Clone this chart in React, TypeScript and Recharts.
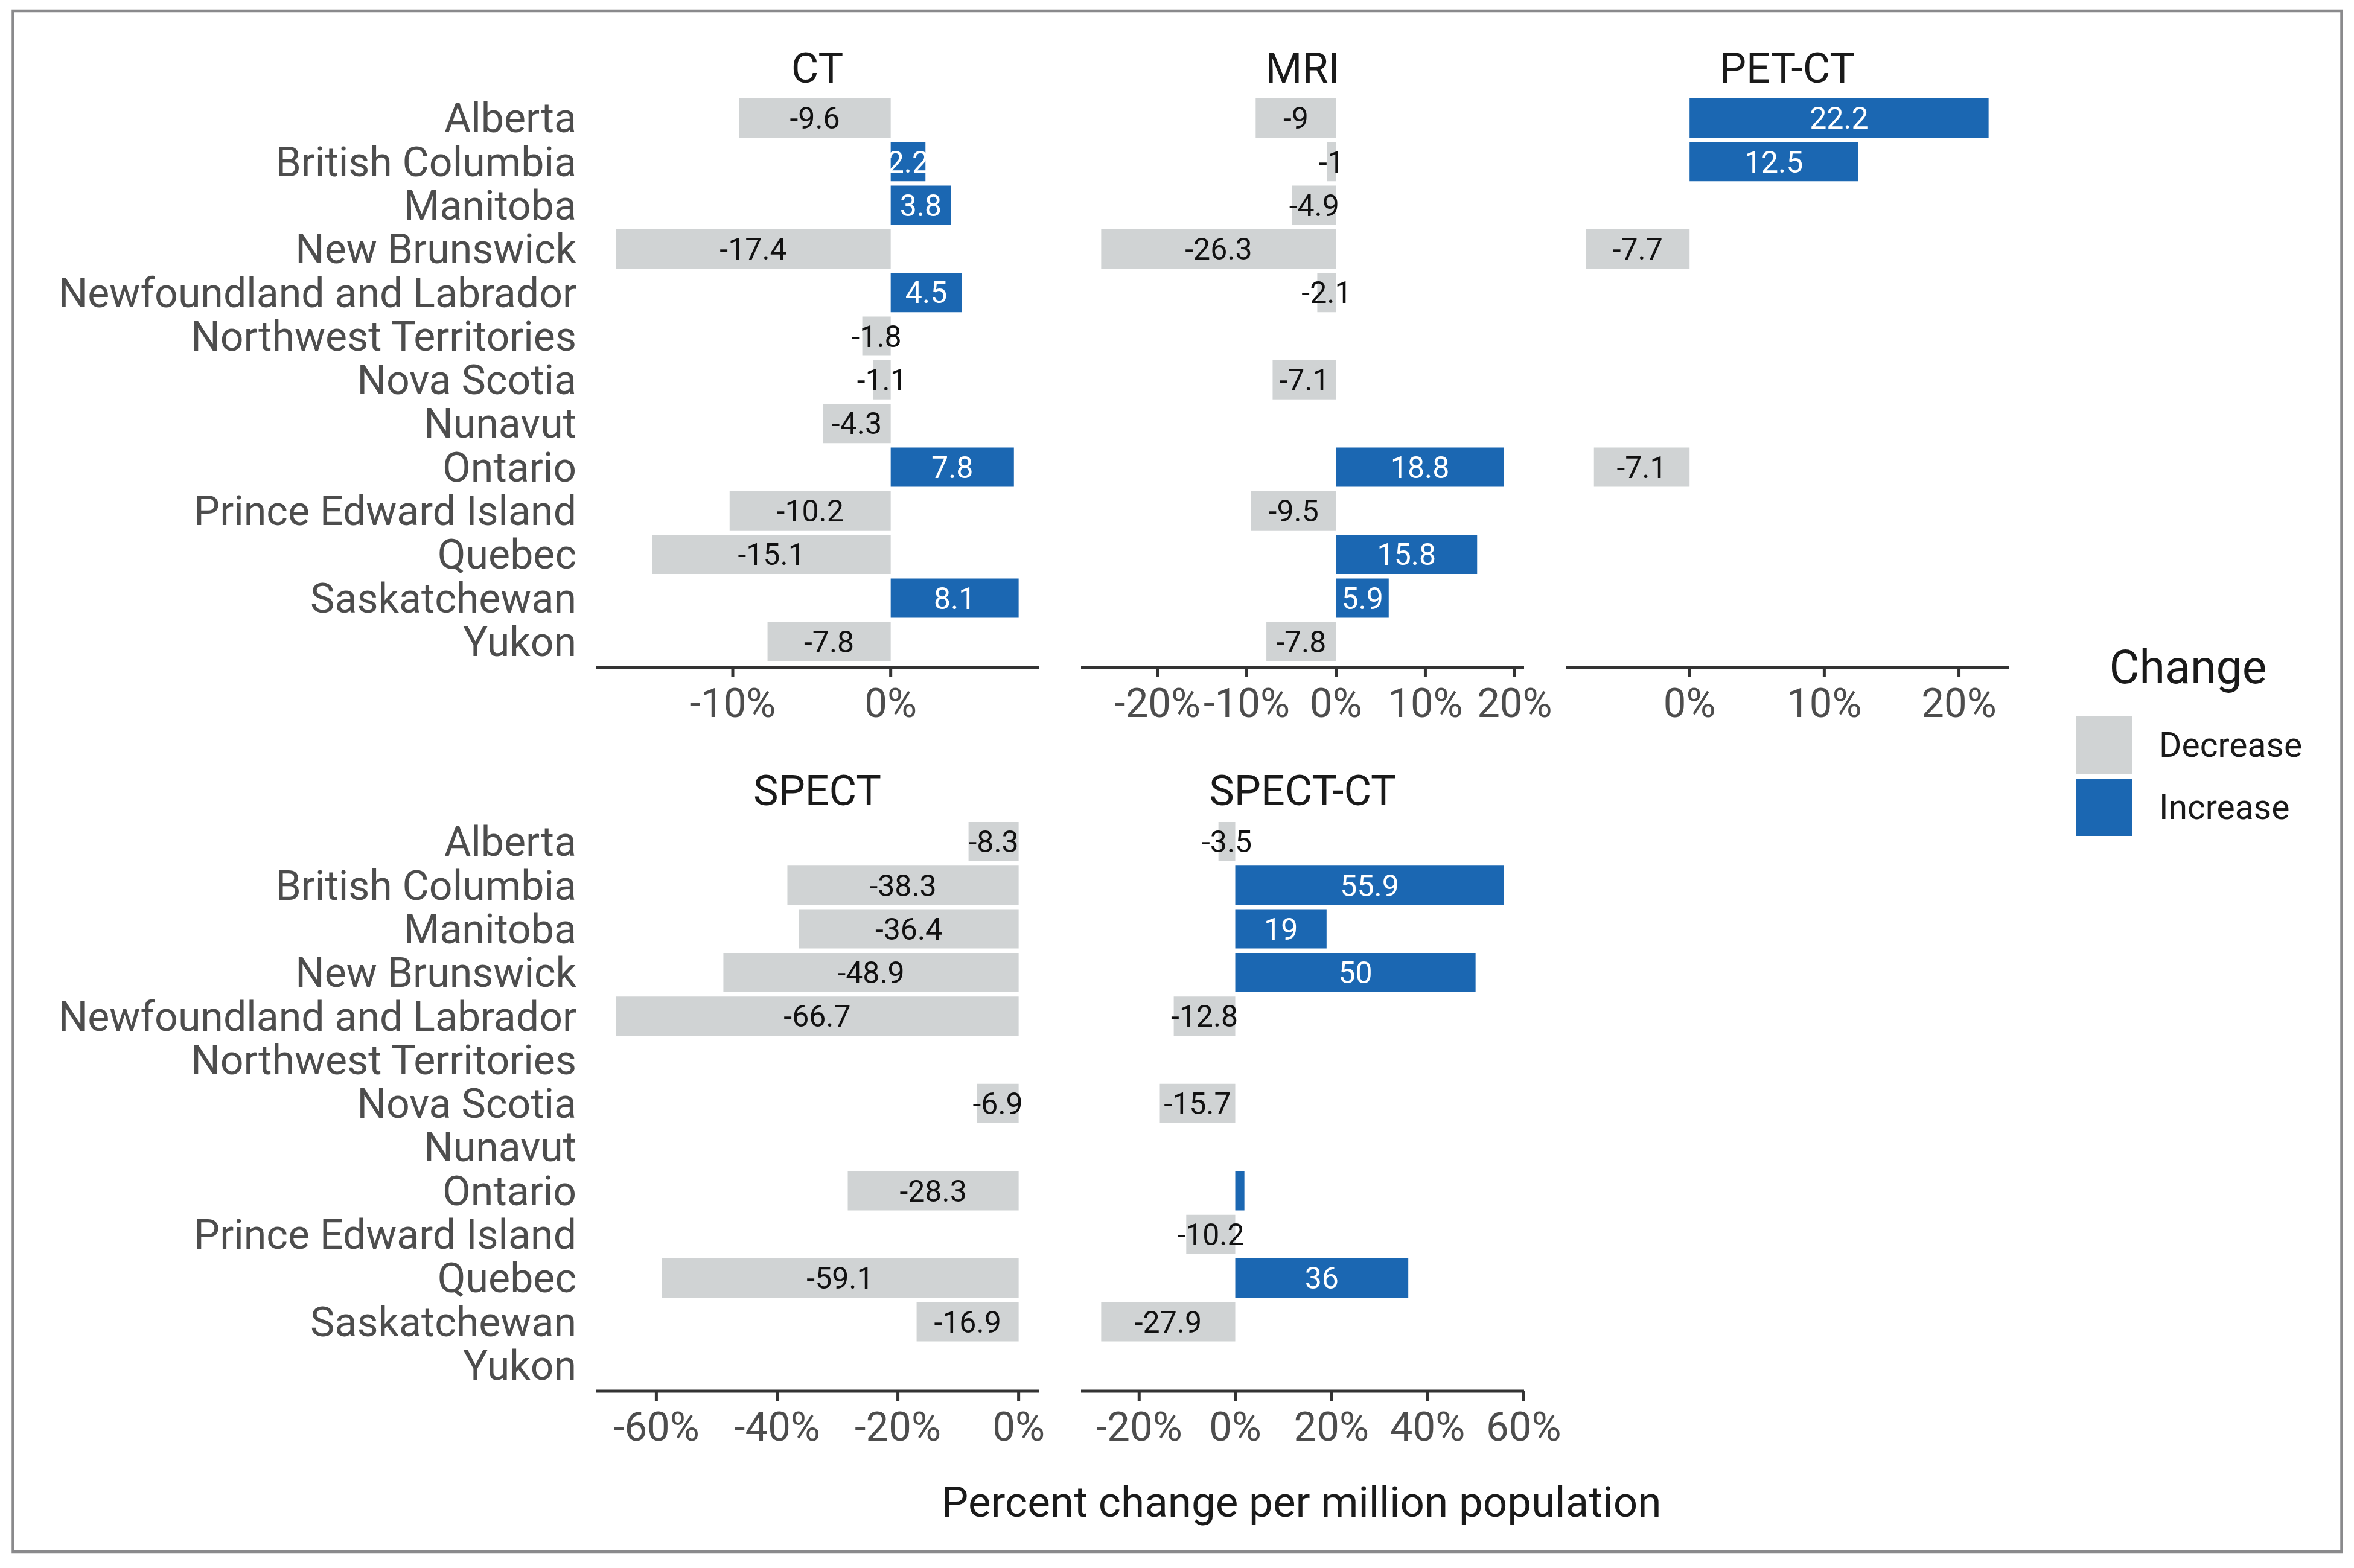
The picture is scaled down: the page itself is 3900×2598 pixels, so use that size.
import React from 'react';
import { BarChart, Bar, XAxis, YAxis, LabelList } from 'recharts';

// provinces, top to bottom
const provinces = [
  'Alberta',
  'British Columbia',
  'Manitoba',
  'New Brunswick',
  'Newfoundland and Labrador',
  'Northwest Territories',
  'Nova Scotia',
  'Nunavut',
  'Ontario',
  'Prince Edward Island',
  'Quebec',
  'Saskatchewan',
  'Yukon',
];

// percent change per million population, null = no data
const ctValues = [-9.6, 2.2, 3.8, -17.4, 4.5, -1.8, -1.1, -4.3, 7.8, -10.2, -15.1, 8.1, -7.8];
const mriValues = [-9, -1, -4.9, -26.3, -2.1, null, -7.1, null, 18.8, -9.5, 15.8, 5.9, -7.8];
const petctValues = [22.2, 12.5, 0, -7.7, 0, null, 0, null, -7.1, null, 0, 0, null];
const spectValues = [-8.3, -38.3, -36.4, -48.9, -66.7, null, -6.9, null, -28.3, null, -59.1, -16.9, null];
const spectctValues = [-3.5, 55.9, 19, 50, -12.8, null, -15.7, null, 1.9, -10.2, 36, -27.9, null];

const ctTicks = [-10, 0];
const mriTicks = [-20, -10, 0, 10, 20];
const petctTicks = [0, 10, 20];
const spectTicks = [-60, -40, -20, 0];
const spectctTicks = [-20, 0, 20, 40, 60];

const GREY = '#d0d3d4';
const BLUE = '#1b67b2';
const FONT = 'Roboto, sans-serif';

const PLOT_W = 734;
const PLOT_H = 954;
const AXIS_H = 130;
const NAMES_W = 960;
const RIGHT_PAD = 90; // room for the last tick label

type PanelProps = {
  values: (number | null)[];
  ticks: number[];
  left: number;
  top: number;
  showNames?: boolean;
};

const Panel = ({ values, ticks, left, top, showNames }: PanelProps) => {
  const data = provinces.map((p, i) => {
    const v = values[i];
    return {
      prov: p,
      dec: v != null && v < 0 ? v : null,
      inc: v != null && v > 0 ? v : null,
    };
  });
  // ggplot-like 5% expansion of the data range
  const present = values.filter((v) => v != null) as number[];
  const lo = Math.min(0, ...present);
  const hi = Math.max(0, ...present);
  const pad = (hi - lo) * 0.05;
  const yW = showNames ? NAMES_W : 0;

  return (
    <div style={{ position: 'absolute', left: left - yW, top }}>
      <BarChart
        layout="vertical"
        width={yW + PLOT_W + RIGHT_PAD}
        height={PLOT_H + AXIS_H}
        data={data}
        margin={{ top: 0, right: RIGHT_PAD, bottom: 0, left: 0 }}
        barSize={65}
        stackOffset="sign"
      >
        <XAxis
          type="number"
          domain={[lo - pad, hi + pad]}
          allowDataOverflow
          ticks={ticks}
          interval={0}
          tickFormatter={(v) => `${v}%`}
          height={AXIS_H}
          axisLine={{ stroke: '#333333', strokeWidth: 5 }}
          tickLine={{ stroke: '#333333', strokeWidth: 5 }}
          tickSize={16}
          tickMargin={18}
          tick={{ fill: '#4d4d4d', fontSize: 67, fontFamily: FONT }}
        />
        <YAxis
          type="category"
          dataKey="prov"
          width={yW}
          hide={!showNames}
          axisLine={false}
          tickLine={false}
          tickSize={0}
          tickMargin={32}
          interval={0}
          padding={{ top: 7, bottom: 7 }}
          tick={{ fill: '#4d4d4d', fontSize: 68, fontFamily: FONT }}
        />
        <Bar dataKey="dec" stackId="s" fill={GREY} isAnimationActive={false}>
          <LabelList
            dataKey="dec"
            position="center"
            fill="#111111"
            fontSize={50}
            fontFamily={FONT}
          />
        </Bar>
        <Bar dataKey="inc" stackId="s" fill={BLUE} isAnimationActive={false}>
          <LabelList
            dataKey="inc"
            position="center"
            fill="#ffffff"
            fontSize={50}
            fontFamily={FONT}
            formatter={(v: any) => (v != null && v < 2 ? '' : v)}
          />
        </Bar>
      </BarChart>
    </div>
  );
};

const App = () => {
  const col = [987, 1791, 2594];
  const rowTop = [152, 1351];
  return (
    <div style={{ position: 'absolute', left: 0, top: 0, width: 3900, height: 2598, background: '#fff', fontFamily: FONT }}>
      <svg width={3900} height={2598} style={{ position: 'absolute', left: 0, top: 0 }}>
        <rect x={21.5} y={18} width={3858} height={2553} fill="none" stroke="#8a8a8c" strokeWidth={4.5} />
        {/* facet titles */}
        <text x={col[0] + PLOT_W / 2} y={137} textAnchor="middle" fontSize={70} fill="#1a1a1a">CT</text>
        <text x={col[1] + PLOT_W / 2} y={137} textAnchor="middle" fontSize={70} fill="#1a1a1a">MRI</text>
        <text x={col[2] + PLOT_W / 2} y={137} textAnchor="middle" fontSize={70} fill="#1a1a1a">PET-CT</text>
        <text x={col[0] + PLOT_W / 2} y={1334} textAnchor="middle" fontSize={70} fill="#1a1a1a">SPECT</text>
        <text x={col[1] + PLOT_W / 2} y={1334} textAnchor="middle" fontSize={70} fill="#1a1a1a">SPECT-CT</text>
        {/* x title */}
        <text x={2156} y={2513} textAnchor="middle" fontSize={71} fill="#1a1a1a">Percent change per million population</text>
        {/* legend */}
        <text x={3625} y={1132} textAnchor="middle" fontSize={77} fill="#1a1a1a">Change</text>
        <rect x={3440} y={1187} width={92} height={95} fill={GREY} />
        <rect x={3440} y={1290} width={92} height={95} fill={BLUE} />
        <text x={3577} y={1254} fontSize={57} fill="#1a1a1a">Decrease</text>
        <text x={3577} y={1357} fontSize={57} fill="#1a1a1a">Increase</text>
      </svg>
      <Panel values={ctValues} ticks={ctTicks} left={col[0]} top={rowTop[0]} showNames />
      <Panel values={mriValues} ticks={mriTicks} left={col[1]} top={rowTop[0]} />
      <Panel values={petctValues} ticks={petctTicks} left={col[2]} top={rowTop[0]} />
      <Panel values={spectValues} ticks={spectTicks} left={col[0]} top={rowTop[1]} showNames />
      <Panel values={spectctValues} ticks={spectctTicks} left={col[1]} top={rowTop[1]} />
    </div>
  );
};

export default App;
